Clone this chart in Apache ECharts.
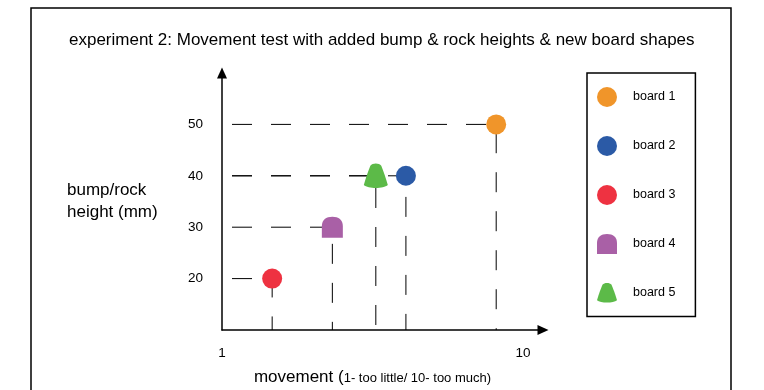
<!DOCTYPE html>
<html>
<head>
<meta charset="utf-8">
<title>experiment 2</title>
<script src="https://cdn.jsdelivr.net/npm/echarts@6/dist/echarts.min.js"></script>
<style>
  html, body { margin: 0; padding: 0; background: #fff; }
  #main { width: 764px; height: 390px; }
</style>
</head>
<body>
<div id="main"></div>
<script>
// values
var boards = ['board 1', 'board 2', 'board 3', 'board 4', 'board 5']
var movement = [9.2, 6.5, 2.5, 4.3, 5.6]
var heights = [50, 40, 20, 30, 40]
var xTicks = [1, 10]
var yTicks = [20, 30, 40, 50]

var colors = ['#F0952A', '#2B5AA6', '#EE3241', '#A960A6', '#5CBA48']
// circles for 1-3, arch for 4, bell for 5
var shapes = [
  'circle', 'circle', 'circle',
  'path://M0 20 L0 9 C0 3 4 0 10 0 C16 0 20 3 20 9 L20 20 Z',
  'path://M7 2 C9 -0.6 15 -0.6 17 2 C19 7 21 12 23 19 C19 22.5 5 22.5 1 19 C3 12 5 7 7 2 Z'
]
var sizes = [20, 20, 20, 21, [24, 25]]

var xMin = 1, xMax = 10.6
var yMin = 10, yMax = 60

var font = '"Liberation Sans", Arial, Helvetica, sans-serif'

var series = []
// dashed guide lines: from the y axis over to the point, then down to the x axis
boards.forEach(function (b, i) {
  series.push({
    name: 'guide ' + (i + 1),
    type: 'line',
    silent: true,
    symbol: 'none',
    z: 1,
    lineStyle: { color: '#000', width: 1, type: [20, 19], dashOffset: 29 },
    data: [[xMin, heights[i]], [movement[i], heights[i]], [movement[i], yMin]]
  })
})
boards.forEach(function (b, i) {
  series.push({
    name: b,
    type: 'scatter',
    z: 3,
    symbol: shapes[i],
    symbolSize: sizes[i],
    symbolKeepAspect: true,
    itemStyle: { color: colors[i], opacity: 1 },
    data: [[movement[i], heights[i]]]
  })
})

var chart = echarts.init(document.getElementById('main'))
chart.setOption({
  animation: false,
  backgroundColor: '#fff',
  textStyle: { fontFamily: font },
  title: {
    text: 'experiment 2: Movement test with added bump & rock heights & new board shapes',
    left: 64,
    top: 27,
    textStyle: { fontSize: 17, fontWeight: 'normal', color: '#000', fontFamily: font }
  },
  legend: {
    data: boards,
    orient: 'vertical',
    left: 587,
    top: 73,
    itemWidth: 20,
    itemHeight: 20,
    itemGap: 29,
    padding: [14, 20, 14, 10],
    borderColor: '#000',
    borderWidth: 1.5,
    textStyle: { fontSize: 12.5, color: '#000', fontFamily: font, padding: [0, 0, 0, 11] }
  },
  grid: { left: 222, top: 73, width: 321, height: 257, outerBoundsMode: 'none' },
  xAxis: {
    type: 'value',
    min: xMin,
    max: xMax,
    name: '{a|movement (}{b|1- too little/ 10- too much)}',
    nameLocation: 'middle',
    nameGap: 39,
    nameTextStyle: {
      padding: [0, 20, 0, 0],
      rich: {
        a: { fontSize: 17, color: '#000', fontFamily: font },
        b: { fontSize: 13, color: '#000', fontFamily: font, padding: [2, 0, 0, 0] }
      }
    },
    axisLine: { lineStyle: { color: '#000', width: 1.5 }, symbol: ['none', 'triangle'], symbolSize: [10, 11] },
    axisTick: { show: false },
    splitLine: { show: false },
    axisLabel: { customValues: xTicks, margin: 16, fontSize: 13.5, color: '#000', fontFamily: font }
  },
  yAxis: {
    type: 'value',
    min: yMin,
    max: yMax,
    interval: 10,
    name: 'bump/rock\nheight (mm)',
    nameLocation: 'middle',
    nameRotate: 0,
    nameGap: 155,
    nameTextStyle: { align: 'left', verticalAlign: 'middle', fontSize: 17, lineHeight: 22, color: '#000', fontFamily: font },
    axisLine: { lineStyle: { color: '#000', width: 1.5 }, symbol: ['none', 'triangle'], symbolSize: [10, 11] },
    axisTick: { show: false },
    splitLine: { show: false },
    axisLabel: { customValues: yTicks, margin: 19, fontSize: 13.5, color: '#000', fontFamily: font }
  },
  graphic: [{
    type: 'rect',
    shape: { x: 31, y: 8, width: 700, height: 400 },
    style: { fill: 'none', stroke: '#000', lineWidth: 1.5 },
    z: -1
  }],
  series: series
})
</script>
</body>
</html>
